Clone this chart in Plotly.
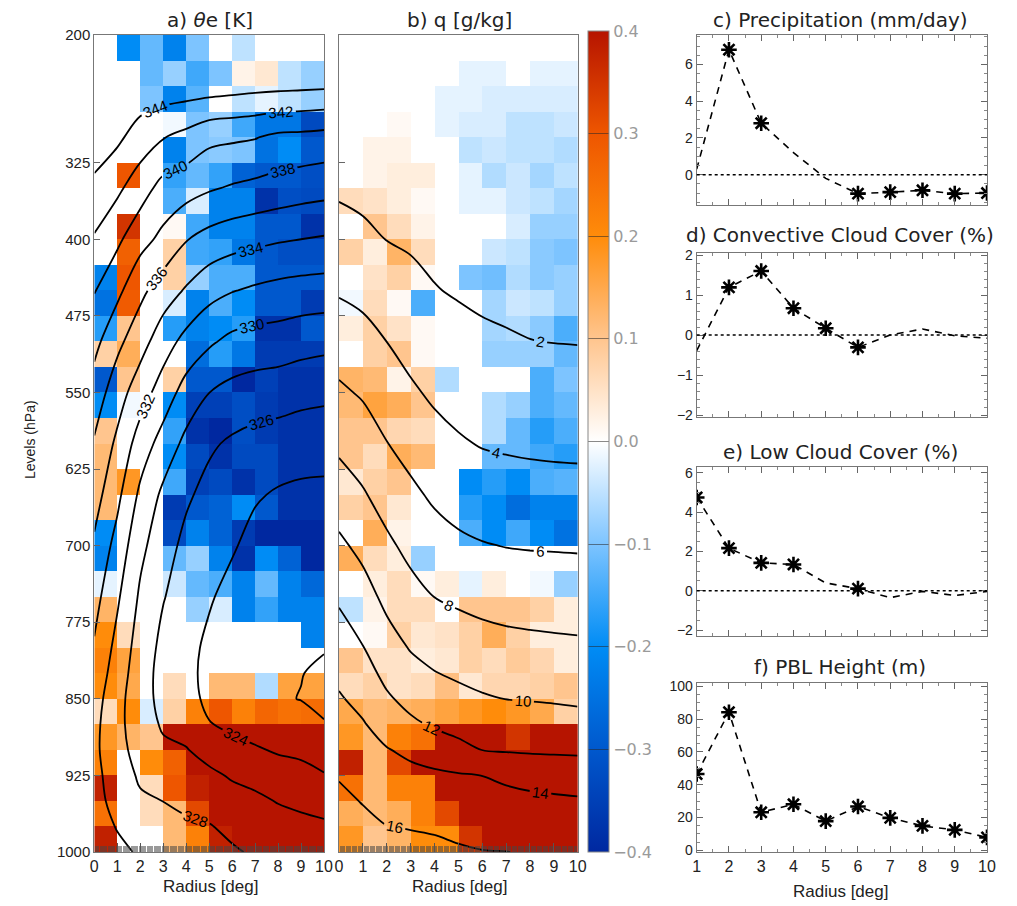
import plotly.graph_objects as go

# ------------------------------------------------------------------ data
RADIUS_EDGES = [0, 1, 2, 3, 4, 5, 6, 7, 8, 9, 10]
LEVEL_EDGES = [200, 225, 250, 275, 300, 325, 350, 375, 400, 425, 450, 475, 500,
               525, 550, 575, 600, 625, 650, 675, 700, 725, 750, 775, 800, 825,
               850, 875, 900, 925, 950, 975, 1000]
LEVEL_TICKS = [200, 325, 400, 475, 550, 625, 700, 775, 850, 925, 1000]

# theta-e anomaly (K), one row per 25-hPa layer (top -> bottom), 10 radius bins
THETAE_ANOM = [
    [0, -0.2, -0.12, -0.22, -0.1, 0, -0.05, 0, 0, 0],
    [0, 0, -0.12, -0.08, -0.15, -0.1, 0.02, 0.04, -0.05, -0.08],
    [0, 0, -0.1, -0.22, -0.13, 0, -0.05, -0.02, -0.05, -0.08],
    [0, 0, 0, -0.01, -0.1, -0.08, -0.15, -0.24, -0.24, -0.33],
    [0, 0, 0, -0.22, -0.1, -0.09, -0.1, -0.25, -0.2, -0.3],
    [0, 0.3, 0, -0.16, -0.12, -0.16, -0.28, -0.3, -0.3, -0.32],
    [0, 0, 0, -0.14, -0.03, -0.22, -0.22, -0.38, -0.32, -0.33],
    [0, 0.35, 0, 0.01, -0.15, -0.22, -0.22, -0.3, -0.3, -0.38],
    [0, 0.28, 0, 0.08, -0.15, -0.16, -0.24, -0.3, -0.32, -0.32],
    [-0.22, 0.3, 0, 0.08, -0.08, -0.14, -0.14, -0.3, -0.3, -0.3],
    [-0.25, 0.29, 0, -0.03, -0.22, -0.14, -0.2, -0.3, -0.3, -0.36],
    [-0.17, 0.1, 0, -0.17, -0.22, -0.2, -0.17, -0.38, -0.38, -0.3],
    [0.08, 0.14, 0, 0, -0.26, -0.17, -0.24, -0.36, -0.36, -0.36],
    [-0.3, 0.1, 0, 0.08, -0.3, -0.3, -0.4, -0.35, -0.38, -0.38],
    [-0.2, -0.01, 0, -0.2, -0.35, -0.35, -0.32, -0.36, -0.38, -0.38],
    [0.1, 0, 0, -0.16, -0.38, -0.4, -0.32, -0.36, -0.38, -0.38],
    [0.12, 0, 0, -0.2, -0.33, -0.38, -0.33, -0.33, -0.38, -0.38],
    [0.12, 0.18, 0, -0.15, -0.35, -0.33, -0.38, -0.33, -0.38, -0.38],
    [0.12, 0, 0, -0.36, -0.3, -0.28, -0.2, -0.3, -0.38, -0.38],
    [-0.2, 0, 0, -0.33, -0.22, -0.28, -0.36, -0.4, -0.4, -0.4],
    [-0.22, 0, 0, -0.12, -0.08, -0.22, -0.38, -0.2, -0.28, -0.4],
    [-0.02, 0, 0, -0.04, -0.12, -0.14, -0.22, -0.12, -0.22, -0.27],
    [0.13, 0, 0, 0, -0.08, -0.03, -0.22, -0.16, -0.22, -0.22],
    [0.2, 0.06, 0, 0, 0, 0, 0, 0, 0, -0.22],
    [0.22, 0.16, 0, 0, 0, 0, 0, 0, 0, 0],
    [0.2, 0.15, 0, 0.06, 0, 0.12, 0.12, -0.06, 0.16, 0.16],
    [0.06, 0.2, -0.03, 0.08, 0.22, 0.3, 0.22, 0.27, 0.25, 0.26],
    [0.18, 0.13, 0.1, 0.45, 0.45, 0.45, 0.45, 0.45, 0.45, 0.45],
    [0.22, 0, 0.2, 0.28, 0.42, 0.45, 0.45, 0.45, 0.45, 0.45],
    [0.38, 0, 0.06, 0.3, 0.38, 0.45, 0.45, 0.45, 0.45, 0.45],
    [0.25, 0, 0.06, 0.12, 0.32, 0.45, 0.45, 0.45, 0.45, 0.45],
    [0.38, 0, 0, 0.12, 0.22, 0.38, 0.42, 0.45, 0.45, 0.45],
]

# specific humidity anomaly (g/kg)
Q_ANOM = [
    [0, 0, 0, 0, 0, 0, 0, 0, 0, 0],
    [0, 0, 0, 0, 0, -0.02, -0.02, 0, -0.02, -0.02],
    [0, 0, 0, 0, -0.02, -0.02, -0.03, -0.03, -0.03, -0.03],
    [0, 0, 0.01, 0, -0.02, -0.03, -0.03, -0.05, -0.05, -0.04],
    [0, 0.02, 0.02, 0, 0, -0.05, -0.04, -0.05, -0.05, -0.06],
    [0, 0.02, 0.03, 0.03, 0, -0.02, -0.06, -0.04, -0.07, -0.05],
    [0.06, 0.05, 0.03, 0.01, 0, -0.02, -0.02, -0.04, -0.05, -0.07],
    [0, 0.1, 0.06, 0.02, 0, 0, 0, -0.03, -0.08, -0.08],
    [0.08, 0.03, 0.13, 0.06, 0, 0, -0.04, -0.05, -0.09, -0.1],
    [0, 0.05, 0.08, 0.01, 0, -0.1, -0.11, -0.06, -0.09, -0.08],
    [-0.01, 0.06, 0.01, -0.14, 0, 0, -0.07, -0.04, -0.05, -0.08],
    [0.03, 0.08, 0.05, 0.01, 0, 0, -0.07, -0.06, -0.09, -0.14],
    [0, 0.08, 0.1, 0.01, 0, 0, -0.08, -0.08, -0.08, -0.12],
    [0.13, 0.12, 0.02, 0.08, -0.06, 0, 0, 0, -0.14, -0.1],
    [0.12, 0.16, 0.14, 0.1, 0, 0, -0.06, -0.08, -0.14, -0.12],
    [0.1, 0.1, 0.07, 0.06, 0, 0, -0.06, -0.12, -0.17, -0.14],
    [0.1, 0.06, 0.14, 0.12, 0, 0, -0.12, -0.12, -0.15, -0.17],
    [0.04, 0.08, 0.1, 0, 0, -0.2, -0.17, -0.2, -0.14, -0.13],
    [0.08, 0.1, 0.04, 0, 0, -0.17, -0.2, -0.26, -0.22, -0.22],
    [0, 0.14, 0.02, 0, 0, -0.14, -0.2, -0.15, -0.2, -0.25],
    [0.14, 0.06, 0.03, -0.08, 0, 0, 0, 0, 0, 0],
    [0, 0.03, 0.06, 0.01, 0.03, -0.02, 0.03, 0, -0.01, -0.08],
    [-0.05, 0.02, 0.06, 0.06, 0, 0.1, 0.1, 0.1, 0.08, 0.03],
    [0, 0.01, 0.08, 0.04, 0.05, 0.08, 0.14, 0.08, 0.03, 0.03],
    [0.1, 0.05, 0.05, 0.03, 0.04, 0.08, 0.06, 0.09, 0.07, 0.03],
    [0.06, 0.08, 0.05, 0.06, 0.11, 0.04, 0.07, 0.07, 0.08, 0.1],
    [0.15, 0.12, 0.13, 0.14, 0.16, 0.18, 0.2, 0.18, 0.15, 0.08],
    [0.18, 0.12, 0.22, 0.25, 0.45, 0.45, 0.45, 0.35, 0.4, 0.42],
    [0.38, 0.12, 0.32, 0.45, 0.45, 0.45, 0.45, 0.45, 0.45, 0.45],
    [0.25, 0.12, 0.22, 0.22, 0.45, 0.45, 0.45, 0.45, 0.45, 0.45],
    [0.14, 0.12, 0.14, 0.22, 0.32, 0.4, 0.45, 0.45, 0.45, 0.45],
    [0.18, 0.1, 0.13, 0.2, 0.2, 0.35, 0.45, 0.45, 0.45, 0.45],
]

# mean fields for the contour lines
RADIUS_PTS = [0, 1, 2, 3, 4, 5, 6, 7, 8, 9, 10]
LEVEL_PTS = [200, 250, 300, 350, 400, 450, 500, 550, 600, 650, 700, 750, 800,
             825, 850, 875, 900, 925, 950, 975, 1000]
THETAE_MEAN = [
    [348.0, 347.5, 347.0, 346.5, 346.2, 346.0, 345.8, 345.6, 345.5, 345.4, 345.3],
    [346.5, 346.0, 345.3, 345.2, 345.1, 345.0, 344.8, 344.6, 344.5, 344.4, 344.3],
    [345.2, 344.4, 343.1, 342.1, 341.4, 340.5, 340.3, 340.1, 339.6, 339.5, 339.3],
    [343.5, 342.4, 340.9, 339.3, 338.8, 338.2, 337.8, 337.5, 337.2, 336.9, 336.7],
    [341.8, 340.4, 338.7, 337.5, 336.1, 335.3, 334.8, 334.5, 334.2, 334.0, 333.8],
    [340.1, 338.5, 336.5, 335.0, 333.8, 332.7, 332.1, 331.7, 331.4, 331.2, 331.1],
    [338.6, 336.5, 334.8, 332.9, 331.4, 330.3, 329.5, 329.2, 329.1, 328.8, 328.6],
    [337.1, 334.9, 332.9, 331.1, 329.2, 328.02, 327.4, 327.1, 326.9, 326.6, 326.4],
    [335.8, 333.6, 331.1, 329.2, 327.5, 326.3, 325.7, 325.3, 325.1, 324.9, 324.9],
    [334.8, 332.5, 329.6, 327.6, 326.3, 325.4, 324.8, 324.2, 323.8, 323.6, 323.5],
    [333.7, 331.3, 328.5, 326.8, 325.5, 324.8, 324.2, 323.4, 323.1, 322.9, 322.8],
    [332.7, 330.3, 327.7, 326.1, 325.1, 324.2, 323.4, 322.9, 322.6, 322.5, 322.4],
    [331.8, 329.4, 327.1, 325.5, 324.6, 323.6, 322.8, 322.4, 322.3, 322.2, 322.1],
    [331.2, 329.1, 326.8, 325.4, 324.6, 323.4, 322.6, 322.3, 322.2, 322.05, 321.7],
    [330.8, 328.7, 326.7, 325.5, 324.8, 323.5, 322.7, 322.4, 322.2, 321.95, 321.6],
    [330.5, 328.6, 326.8, 325.8, 325.3, 324.1, 323.6, 323.2, 322.9, 322.7, 322.1],
    [330.4, 328.7, 327.2, 326.3, 326.1, 325.3, 324.6, 324.2, 323.8, 323.6, 323.2],
    [330.5, 329.1, 327.7, 327.1, 326.8, 326.4, 325.8, 325.4, 324.9, 324.6, 324.1],
    [330.6, 329.4, 328.3, 327.98, 327.6, 327.3, 326.7, 326.4, 325.9, 325.6, 325.3],
    [330.8, 329.9, 329.1, 328.6, 328.3, 328.1, 327.6, 327.2, 326.8, 326.5, 326.3],
    [331.0, 330.4, 329.8, 329.1, 328.7, 328.5, 328.2, 327.8, 327.5, 327.2, 327.1],
]
Q_MEAN = [
    [0.2, 0.2, 0.15, 0.15, 0.12, 0.1, 0.1, 0.08, 0.08, 0.07, 0.07],
    [0.5, 0.5, 0.45, 0.4, 0.35, 0.3, 0.25, 0.22, 0.2, 0.2, 0.18],
    [1.05, 0.95, 0.9, 0.8, 0.7, 0.6, 0.55, 0.5, 0.45, 0.42, 0.4],
    [1.74, 1.57, 1.44, 1.3, 1.15, 1.05, 0.9, 0.85, 0.8, 0.78, 0.75],
    [2.71, 2.36, 1.97, 1.78, 1.6, 1.4, 1.3, 1.25, 1.2, 1.17, 1.15],
    [3.82, 3.5, 2.98, 2.49, 2.07, 1.85, 1.72, 1.65, 1.6, 1.57, 1.55],
    [5.05, 4.64, 3.99, 3.36, 2.88, 2.54, 2.26, 2.13, 2.02, 1.97, 1.94],
    [6.31, 5.79, 5.02, 4.27, 3.69, 3.34, 3.07, 2.95, 2.85, 2.8, 2.77],
    [7.61, 6.98, 6.05, 5.33, 4.65, 4.19, 3.89, 3.77, 3.68, 3.63, 3.6],
    [8.99, 8.18, 7.21, 6.39, 5.69, 5.24, 4.97, 4.82, 4.72, 4.66, 4.62],
    [10.38, 9.48, 8.37, 7.48, 6.81, 6.36, 6.1, 5.95, 5.88, 5.85, 5.81],
    [11.73, 10.77, 9.52, 8.64, 7.98, 7.66, 7.4, 7.23, 7.14, 7.08, 7.04],
    [12.98, 12.06, 10.81, 9.88, 9.36, 9.03, 8.75, 8.57, 8.46, 8.38, 8.31],
    [13.59, 12.76, 11.5, 10.63, 10.07, 9.72, 9.44, 9.29, 9.19, 9.1, 9.01],
    [14.18, 13.46, 12.26, 11.43, 10.92, 10.52, 10.18, 9.98, 9.91, 9.83, 9.72],
    [14.74, 14.14, 13.21, 12.35, 11.76, 11.38, 11.09, 10.93, 10.83, 10.75, 10.64],
    [15.3, 14.73, 14.1, 13.6, 13.09, 12.52, 11.98, 11.85, 11.77, 11.74, 11.7],
    [15.87, 15.32, 14.75, 14.49, 14.31, 14.15, 13.98, 13.62, 13.31, 13.14, 13.02],
    [16.41, 15.91, 15.4, 15.22, 15.08, 14.92, 14.74, 14.59, 14.44, 14.32, 14.21],
    [16.95, 16.46, 16.03, 15.94, 15.85, 15.69, 15.47, 15.32, 15.17, 15.06, 14.98],
    [17.5, 17.05, 16.4, 16.35, 16.3, 16.15, 16.05, 16.02, 15.9, 15.8, 15.75],
]

# line panels
RADIUS_LINE = [1, 2, 3, 4, 5, 6, 7, 8, 9, 10]
PRECIP = [0.3, 6.8, 2.8, 1.2, -0.2, -1.03, -0.95, -0.85, -1.03, -1.0]
PRECIP_SIG = [0, 1, 1, 0, 0, 1, 1, 1, 1, 1]
CONV_CLD = [-0.39, 1.19, 1.6, 0.67, 0.17, -0.31, 0.0, 0.15, -0.02, -0.08]
CONV_SIG = [0, 1, 1, 1, 1, 1, 0, 0, 0, 0]
LOW_CLD = [4.75, 2.17, 1.42, 1.34, 0.4, 0.11, -0.35, -0.03, -0.24, -0.03]
LOW_SIG = [1, 1, 1, 1, 0, 1, 0, 0, 0, 0]
PBL = [46.5, 84.2, 23.2, 28.1, 17.8, 26.7, 19.8, 14.9, 12.5, 7.9]
PBL_SIG = [1, 1, 1, 1, 1, 1, 1, 1, 1, 1]

CB_TICKS = [-0.4, -0.3, -0.2, -0.1, 0.0, 0.1, 0.2, 0.3, 0.4]
CB_TEXT = ["\u22120.4", "\u22120.3", "\u22120.2", "\u22120.1", "0.0", "0.1", "0.2", "0.3", "0.4"]

# ------------------------------------------------------------------ style
COLORSCALE = [
    [0.0, "rgb(0,40,160)"],
    [0.125, "rgb(0,88,205)"],
    [0.25, "rgb(0,140,245)"],
    [0.375, "rgb(125,196,255)"],
    [0.5, "rgb(255,255,255)"],
    [0.625, "rgb(255,197,142)"],
    [0.75, "rgb(255,140,10)"],
    [0.875, "rgb(238,86,0)"],
    [1.0, "rgb(182,20,0)"],
]
BLACK = [[0, "black"], [1, "black"]]
TICKFONT = dict(family="Liberation Sans, Arial", size=15, color="#222")
TITLEFONT = dict(family="DejaVu Sans", size=20, color="#222")
FRAME = "#777"

# the page puts the figure 8 px in from the top-left corner of the window
OFF = 8
W, H = 1017 - OFF, 906 - OFF
def px(xp):
    return (xp - OFF) / W
def py(yp):
    return 1 - (yp - OFF) / H

fig = go.Figure()

# panel a
fig.add_trace(go.Heatmap(
    x=RADIUS_EDGES, y=LEVEL_EDGES, z=THETAE_ANOM, zmin=-0.4, zmax=0.4,
    colorscale=COLORSCALE, xaxis="x", yaxis="y", hoverinfo="skip",
    colorbar=dict(
        x=px(588), xanchor="left", y=py(441.5), yanchor="middle",
        len=821 / H, lenmode="fraction", thickness=21, thicknessmode="pixels",
        outlinewidth=1, outlinecolor="#888", xpad=0, ypad=0,
        tickvals=CB_TICKS, ticktext=CB_TEXT, ticks="inside", ticklen=21,
        tickcolor="rgba(40,40,40,0.55)", tickwidth=1,
        tickfont=dict(family="DejaVu Sans", size=16, color="#9a9a9a"),
    ),
))
fig.add_trace(go.Contour(
    x=RADIUS_PTS, y=LEVEL_PTS, z=THETAE_MEAN, xaxis="x", yaxis="y",
    contours=dict(start=322, end=344, size=2, coloring="lines", showlabels=True,
                  labelfont=dict(family="Liberation Sans, Arial", size=15, color="black")),
    colorscale=BLACK, showscale=False, line=dict(width=1.8), hoverinfo="skip",
))

# panel b
fig.add_trace(go.Heatmap(
    x=RADIUS_EDGES, y=LEVEL_EDGES, z=Q_ANOM, zmin=-0.4, zmax=0.4,
    colorscale=COLORSCALE, xaxis="x2", yaxis="y2", showscale=False, hoverinfo="skip",
))
fig.add_trace(go.Contour(
    x=RADIUS_PTS, y=LEVEL_PTS, z=Q_MEAN, xaxis="x2", yaxis="y2",
    contours=dict(start=2, end=16, size=2, coloring="lines", showlabels=True,
                  labelfont=dict(family="Liberation Sans, Arial", size=15, color="black")),
    colorscale=BLACK, showscale=False, line=dict(width=1.8), hoverinfo="skip",
))

# line panels
LINES = [(PRECIP, PRECIP_SIG, "3"), (CONV_CLD, CONV_SIG, "4"),
         (LOW_CLD, LOW_SIG, "5"), (PBL, PBL_SIG, "6")]
for vals, sig, k in LINES:
    fig.add_trace(go.Scatter(
        x=RADIUS_LINE, y=vals, mode="lines", xaxis="x" + k, yaxis="y" + k,
        line=dict(color="black", width=1.6, dash="7px,6px"), hoverinfo="skip",
    ))
    fig.add_trace(go.Scatter(
        x=[r for r, s in zip(RADIUS_LINE, sig) if s],
        y=[v for v, s in zip(vals, sig) if s],
        mode="markers", xaxis="x" + k, yaxis="y" + k,
        marker=dict(symbol="asterisk-open", size=13, color="black",
                    line=dict(width=2.6, color="black")),
        hoverinfo="skip",
    ))

# zero reference lines in c, d, e
for k in ["3", "4", "5"]:
    fig.add_shape(type="line", xref="x" + k + " domain", yref="y" + k,
                  x0=0, x1=1, y0=0, y1=0,
                  line=dict(color="black", width=1.5, dash="dot"))

# ------------------------------------------------------------------ axes
YDOM_HM = [py(852), py(35)]
common_hm_x = dict(
    range=[0, 10], tickvals=RADIUS_EDGES, ticks="inside", ticklen=9, tickcolor="#555",
    minor=dict(dtick=0.05, ticks="inside", ticklen=6,
               tickcolor="rgba(70,70,70,0.55)", tickwidth=1),
    showline=True, mirror=True, linecolor=FRAME, linewidth=1, showgrid=False,
    zeroline=False, automargin=False,
    tickfont=dict(family="Liberation Sans, Arial", size=16, color="#222"),
)
common_hm_y = dict(
    range=[1000, 200], tickvals=LEVEL_TICKS, ticks="inside", ticklen=6, tickcolor="#666",
    showline=True, mirror=True, linecolor=FRAME, linewidth=1, showgrid=False,
    zeroline=False, automargin=False, tickfont=TICKFONT, domain=YDOM_HM,
)

layout = dict(
    width=W, height=H, margin=dict(l=0, r=0, t=0, b=0, pad=0, autoexpand=False),
    paper_bgcolor="white", plot_bgcolor="white", showlegend=False,
    xaxis=dict(domain=[px(94.3), px(324)], anchor="y", **common_hm_x),
    yaxis=dict(anchor="x", **common_hm_y),
    xaxis2=dict(domain=[px(339), px(577.7)], anchor="y2", **common_hm_x),
    yaxis2=dict(anchor="x2", showticklabels=False, **common_hm_y),
)

XDOM_R = [px(696.7), px(987)]
PANELS = {
    "3": ([py(205), py(35)], [-1.65, 7.6], [0, 2, 4, 6], 0.5),
    "4": ([py(417), py(253)], [-2.05, 2.05], [-2, -1, 0, 1, 2], 0.2),
    "5": ([py(636), py(467)], [-2.3, 6.3], [-2, 0, 2, 4, 6], 0.5),
    "6": ([py(852), py(683)], [-1, 102], [0, 20, 40, 60, 80, 100], 5),
}
for k, (ydom, yr, yt, ymin) in PANELS.items():
    layout["xaxis" + k] = dict(
        domain=XDOM_R, anchor="y" + k, range=[1, 10], tickvals=RADIUS_LINE,
        showticklabels=(k == "6"), ticks="inside", ticklen=6, tickcolor="#666",
        minor=dict(dtick=0.5, ticks="inside", ticklen=3, tickcolor="#888"),
        showline=True, mirror="allticks", linecolor=FRAME, linewidth=1,
        showgrid=False, zeroline=False, automargin=False,
        tickfont=dict(family="Liberation Sans, Arial", size=16, color="#222"),
    )
    layout["yaxis" + k] = dict(
        domain=ydom, anchor="x" + k, range=yr, tickvals=yt, ticks="inside",
        ticklen=6, tickcolor="#666",
        minor=dict(dtick=ymin, ticks="inside", ticklen=3, tickcolor="#888"),
        showline=True, mirror="allticks", linecolor=FRAME, linewidth=1,
        showgrid=False, zeroline=False, automargin=False,
        tickfont=dict(family="Liberation Sans, Arial", size=14, color="#222"),
    )

fig.update_layout(**layout)

# ------------------------------------------------------------------ text
ANN = [
    ("a) <i>\u03b8</i>e [K]", 210, 20),
    ("b) q [g/kg]", 459, 20),
    ("c) Precipitation (mm/day)", 840, 20),
    ("d) Convective Cloud Cover (%)", 840, 235),
    ("e) Low Cloud Cover (%)", 840, 452),
    ("f) PBL Height (m)", 840, 667),
]
for txt, xx, yy in ANN:
    fig.add_annotation(text=txt, x=px(xx), y=py(yy), xref="paper", yref="paper",
                       showarrow=False, xanchor="center", yanchor="middle",
                       borderpad=0, font=TITLEFONT)
for xx, yy in [(210, 886), (459, 886), (840, 891)]:
    fig.add_annotation(text="Radius [deg]", x=px(xx), y=py(yy), xref="paper",
                       yref="paper", showarrow=False, xanchor="center",
                       yanchor="middle",
                       font=dict(family="Liberation Sans, Arial", size=17, color="#222"))
fig.add_annotation(text="Levels (hPa)", x=px(30), y=py(440), xref="paper", yref="paper",
                   showarrow=False, textangle=-90, xanchor="center", yanchor="middle",
                   font=dict(family="Liberation Sans, Arial", size=14, color="#222"))

fig.write_html("out.html")
